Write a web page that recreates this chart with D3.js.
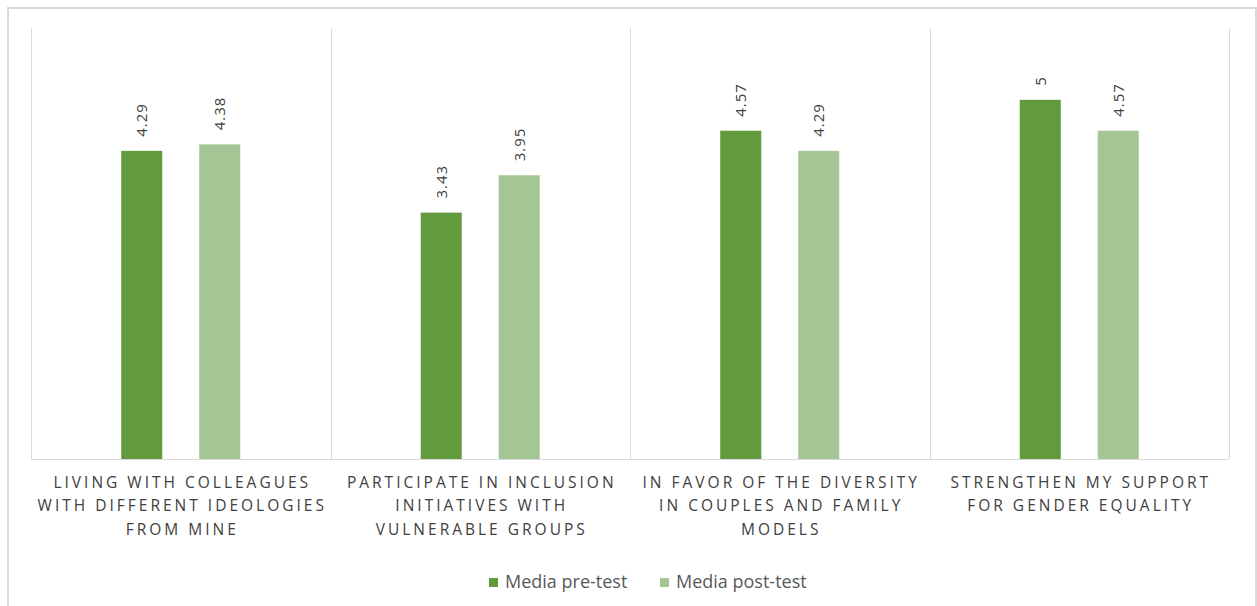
<!DOCTYPE html>
<html>
<head>
<meta charset="utf-8">
<script src="https://cdn.jsdelivr.net/npm/d3@7"></script>
<style>
  body { margin: 0; background: #fff; }
  text { font-family: "Open Sans", sans-serif; }
</style>
</head>
<body>
<div id="chart"></div>
<script>
// data
const categories = ["living", "participate", "favor", "strengthen"];
const categoryLines = [
    ["LIVING WITH COLLEAGUES", "WITH DIFFERENT IDEOLOGIES", "FROM MINE"],
    ["PARTICIPATE IN INCLUSION", "INITIATIVES WITH", "VULNERABLE GROUPS"],
    ["IN FAVOR OF THE DIVERSITY", "IN COUPLES AND FAMILY", "MODELS"],
    ["STRENGTHEN MY SUPPORT", "FOR GENDER EQUALITY"]
];
const seriesNames = ["Media pre-test", "Media post-test"];
const preTest = [4.29, 3.43, 4.57, 5];
const postTest = [4.38, 3.95, 4.29, 4.57];
const seriesColors = ["#629a3e", "#a3c694"];

const width = 1257, height = 606;
const plot = {left: 31, right: 1229, top: 28, bottom: 459};

const svg = d3.select("#chart")
    .append("svg")
    .attr("width", width)
    .attr("height", height);

// outer chart border
svg.append("rect")
    .attr("x", 8).attr("y", 8)
    .attr("width", 1248).attr("height", 640)
    .attr("fill", "none")
    .attr("stroke", "#d9d9d9")
    .attr("stroke-width", 2);

// scales
const xScale = d3.scaleBand()
    .domain(categories)
    .range([plot.left, plot.right])
    .padding(0);

const xSub = d3.scaleBand()
    .domain(seriesNames)
    .range([0, xScale.bandwidth()])
    .paddingInner(0.474)
    .paddingOuter(1.157);

const yScale = d3.scaleLinear()
    .domain([0, 6])
    .range([plot.bottom, plot.top]);

// vertical separators between categories
const edges = categories.map(c => xScale(c)).concat([plot.right]);
svg.append("g")
    .selectAll("line")
    .data(edges)
    .join("line")
    .attr("x1", d => Math.round(d) + 0.5)
    .attr("x2", d => Math.round(d) + 0.5)
    .attr("y1", plot.top)
    .attr("y2", plot.bottom)
    .attr("stroke", "#d9d9d9")
    .attr("stroke-width", 1);

// baseline
svg.append("line")
    .attr("x1", plot.left).attr("x2", plot.right)
    .attr("y1", plot.bottom + 0.5).attr("y2", plot.bottom + 0.5)
    .attr("stroke", "#d9d9d9");

// bars
const rows = categories.map((c, i) => ({
    cat: c,
    values: [
        {series: seriesNames[0], value: preTest[i], color: seriesColors[0]},
        {series: seriesNames[1], value: postTest[i], color: seriesColors[1]}
    ]
}));

const groups = svg.append("g")
    .selectAll("g")
    .data(rows)
    .join("g")
    .attr("transform", d => `translate(${xScale(d.cat)},0)`);

groups.selectAll("rect")
    .data(d => d.values)
    .join("rect")
    .attr("x", d => xSub(d.series))
    .attr("y", d => yScale(d.value))
    .attr("width", xSub.bandwidth())
    .attr("height", d => yScale(0) - yScale(d.value))
    .attr("fill", d => d.color);

// rotated value labels
groups.selectAll("text")
    .data(d => d.values)
    .join("text")
    .attr("transform", d =>
        `translate(${xSub(d.series) + xSub.bandwidth() / 2 + 5.5},${yScale(d.value) - 14}) rotate(-90)`)
    .attr("text-anchor", "start")
    .style("font-size", "15px")
    .style("letter-spacing", "1px")
    .style("fill", "#404040")
    .text(d => d.value);

// category labels
const catLabels = svg.append("g")
    .selectAll("text")
    .data(categories)
    .join("text")
    .attr("x", d => xScale(d) + xScale.bandwidth() / 2 + 1.5)
    .attr("y", 487.5)
    .attr("text-anchor", "middle")
    .style("font-size", "15.5px")
    .style("letter-spacing", "3px")
    .style("fill", "#404040");

catLabels.selectAll("tspan")
    .data((d, i) => categoryLines[i])
    .join("tspan")
    .attr("x", function() { return this.parentNode.getAttribute("x"); })
    .attr("dy", (d, i) => i === 0 ? 0 : 23.5)
    .text(d => d);

// legend
const legendX = [489, 660];
const legend = svg.append("g")
    .selectAll("g")
    .data(seriesNames)
    .join("g")
    .attr("transform", (d, i) => `translate(${legendX[i]},578)`);

legend.append("rect")
    .attr("width", 9).attr("height", 9)
    .attr("fill", (d, i) => seriesColors[i]);

legend.append("text")
    .attr("x", 16)
    .attr("y", 10)
    .style("font-size", "18px")
    .style("fill", "#595959")
    .text(d => d);
</script>
</body>
</html>
